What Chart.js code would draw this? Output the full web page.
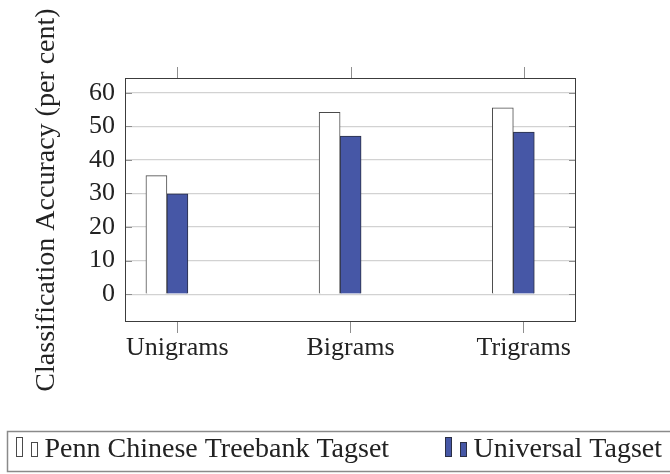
<!DOCTYPE html>
<html lang="en">
<head>
<meta charset="UTF-8">
<title>Classification Accuracy</title>
<script src="https://cdn.jsdelivr.net/npm/chart.js"></script>
<style>
    html, body { margin: 0; padding: 0; background: #ffffff; }
    #wrap { width: 670px; height: 474px; }
</style>
</head>
<body>
<div id="wrap"><canvas id="accuracyChart" width="670" height="474"></canvas></div>
<script>
    // values
    const categories = ['Unigrams', 'Bigrams', 'Trigrams'];
    const pennValues = [35.3, 54.2, 55.5];
    const universalValues = [29.9, 47.1, 48.3];
    const seriesNames = ['Penn Chinese Treebank Tagset', 'Universal Tagset'];
    const yTicks = [0, 10, 20, 30, 40, 50, 60];
    const yTitle = 'Classification Accuracy (per cent)';

    const SERIF = '"Liberation Serif", "Times New Roman", serif';
    const TEXT = '#222222';
    // pgfplots leaves the bar pair a bit left of its tick
    const GROUP_SHIFT = -0.06;

    function toPoints(values) {
        return values.map((v, i) => ({ x: i + GROUP_SHIFT, y: v }));
    }

    function line(ctx, x1, y1, x2, y2) {
        ctx.beginPath();
        ctx.moveTo(x1, y1);
        ctx.lineTo(x2, y2);
        ctx.stroke();
    }

    function legendBar(ctx, x, y, w, h) {
        ctx.fillRect(x, y, w, h);
        ctx.strokeRect(x + 0.5, y + 0.5, w - 1, h - 1);
    }

    // frame, inner ticks and the boxed legend underneath
    const pgfFrame = {
        id: 'pgfFrame',
        afterDraw(chart) {
            const ctx = chart.ctx;
            const a = chart.chartArea;
            const x = chart.scales.x;
            const y = chart.scales.y;
            ctx.save();

            ctx.strokeStyle = '#8f8f8f';
            ctx.lineWidth = 1;
            yTicks.forEach(v => {
                const py = Math.round(y.getPixelForValue(v)) + 0.5;
                line(ctx, a.left, py, a.left + 7, py);
                line(ctx, a.right - 7, py, a.right, py);
            });
            categories.forEach((c, i) => {
                const px = Math.round(x.getPixelForValue(i)) + 0.5;
                line(ctx, px, a.top - 11, px, a.top);
            });

            ctx.strokeStyle = '#3c3c3c';
            ctx.strokeRect(a.left + 0.5, a.top + 0.5, a.right - a.left - 1, a.bottom - a.top - 1);

            // legend box, runs off the right edge as in the original
            ctx.strokeStyle = '#8a8a8a';
            ctx.lineWidth = 1.5;
            ctx.strokeRect(7.5, 431.5, 680, 40);

            const slots = [16, 445];
            ctx.font = '28px ' + SERIF;
            ctx.textBaseline = 'alphabetic';
            ctx.textAlign = 'left';
            chart.data.datasets.forEach((ds, i) => {
                const lx = slots[i];
                ctx.fillStyle = ds.backgroundColor;
                ctx.strokeStyle = ds.borderColor;
                ctx.lineWidth = 1;
                legendBar(ctx, lx, 437, 7, 20);
                legendBar(ctx, lx + 15, 442, 7, 15);
                ctx.fillStyle = TEXT;
                ctx.fillText(ds.label, lx + 28.5, 457);
            });
            ctx.restore();
        }
    };

    const ctx = document.getElementById('accuracyChart').getContext('2d');
    new Chart(ctx, {
        type: 'bar',
        data: {
            datasets: [{
                label: seriesNames[0],
                data: toPoints(pennValues),
                backgroundColor: '#ffffff',
                borderColor: '#4a4a4a',
                borderWidth: 1,
                barThickness: 21
            }, {
                label: seriesNames[1],
                data: toPoints(universalValues),
                backgroundColor: '#4657a6',
                borderColor: '#2b2f45',
                borderWidth: 1,
                barThickness: 21
            }]
        },
        options: {
            responsive: false,
            animation: false,
            layout: { padding: { top: 78, right: 94, left: 0, bottom: 0 } },
            plugins: {
                legend: { display: false },
                tooltip: { enabled: false }
            },
            scales: {
                x: {
                    type: 'linear',
                    min: -0.302,
                    max: 2.302,
                    offset: false,
                    afterBuildTicks: s => { s.ticks = categories.map((c, i) => ({ value: i })); },
                    afterFit: s => { s.height = 474 - 322; },
                    ticks: {
                        callback: v => categories[v],
                        font: { family: SERIF, size: 26 },
                        color: TEXT,
                        padding: 0,
                        maxRotation: 0,
                        autoSkip: false
                    },
                    grid: { offset: false, drawOnChartArea: false, drawTicks: true, tickLength: 11, color: '#8f8f8f' },
                    border: { display: false }
                },
                y: {
                    min: -8.3,
                    max: 64.4,
                    afterBuildTicks: s => { s.ticks = yTicks.map(v => ({ value: v })); },
                    afterFit: s => { s.width = 125; },
                    ticks: {
                        font: { family: SERIF, size: 26 },
                        color: TEXT,
                        padding: 10
                    },
                    grid: { color: '#d2d2d2', lineWidth: 1.2, drawTicks: false },
                    border: { display: false },
                    title: {
                        display: true,
                        text: yTitle,
                        font: { family: SERIF, size: 28 },
                        color: TEXT,
                        padding: { top: 30, bottom: 0 }
                    }
                }
            }
        },
        plugins: [pgfFrame]
    });
</script>
</body>
</html>
